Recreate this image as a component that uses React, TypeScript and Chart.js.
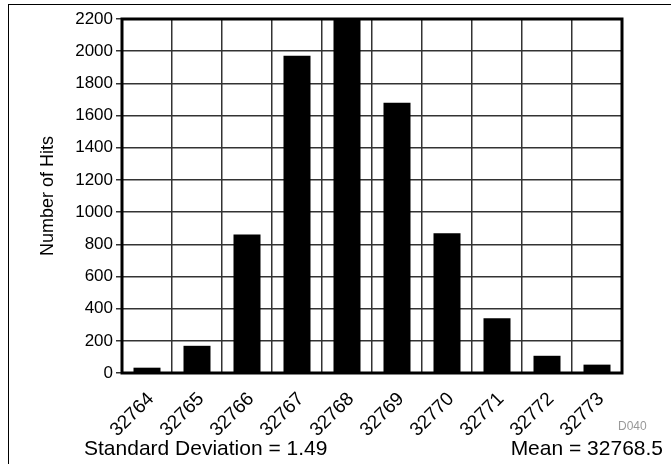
import React, { useEffect, useRef } from "react";
import { Chart, registerables } from "chart.js";

Chart.register(...registerables);

const categories = ["32764", "32765", "32766", "32767", "32768", "32769", "32770", "32771", "32772", "32773"];
const hits = [33, 169, 861, 1971, 2200, 1679, 868, 341, 107, 52];
const yMin = 0;
const yMax = 2200;
const yStep = 200;
const yTitle = "Number of Hits";
const footerLeft = "Standard Deviation = 1.49";
const footerRight = "Mean = 32768.5";
const figureCode = "D040";

const FONT = "'Liberation Sans', Arial, Helvetica, sans-serif";

const borderPlugin = {
  id: "plotBorder",
  afterDatasetsDraw(chart: any) {
    const { ctx, chartArea } = chart;
    ctx.save();
    ctx.strokeStyle = "#000";
    ctx.lineWidth = 3;
    ctx.strokeRect(chartArea.left, chartArea.top, chartArea.right - chartArea.left, chartArea.bottom - chartArea.top);
    ctx.restore();
  },
};

export default function App() {
  const ref = useRef<HTMLCanvasElement | null>(null);

  useEffect(() => {
    if (!ref.current) return;
    const chart = new Chart(ref.current, {
      type: "bar",
      data: {
        labels: categories,
        datasets: [
          {
            data: hits,
            backgroundColor: "#000",
            borderWidth: 0,
            categoryPercentage: 1,
            barPercentage: 0.54,
          },
        ],
      },
      options: {
        responsive: false,
        animation: false,
        layout: { padding: { left: 37, top: 19, right: 49, bottom: 0 } },
        plugins: {
          legend: { display: false },
          tooltip: { enabled: false },
        },
        scales: {
          x: {
            grid: { color: "#333", lineWidth: 1.5, drawTicks: false, offset: true },
            border: { display: false },
            ticks: {
              color: "#000",
              font: { family: FONT, size: 19 },
              minRotation: 45,
              maxRotation: 45,
              padding: 15,
              labelOffset: 4,
              autoSkip: false,
            },
            afterFit: (scale: any) => {
              scale.height = 91;
            },
          },
          y: {
            min: yMin,
            max: yMax,
            grid: { color: "#333", lineWidth: 1.5, tickLength: 6 },
            border: { display: false },
            ticks: {
              stepSize: yStep,
              color: "#000",
              font: { family: FONT, size: 17 },
              padding: 3,
              callback: (v: any) => String(v),
            },
            title: {
              display: true,
              text: yTitle,
              color: "#000",
              font: { family: FONT, size: 18 },
              padding: 0,
            },
            afterFit: (scale: any) => {
              scale.width = 85;
            },
          },
        },
      },
      plugins: [borderPlugin],
    });
    return () => chart.destroy();
  }, []);

  return (
    <div
      style={{
        position: "absolute",
        left: 0,
        top: 0,
        width: 671,
        height: 464,
        background: "#fff",
        overflow: "hidden",
        fontFamily: FONT,
      }}
    >
      <canvas ref={ref} width={671} height={464} style={{ position: "absolute", left: 0, top: 0 }} />
      <div
        style={{
          position: "absolute",
          left: 7.5,
          top: 3.5,
          width: 700,
          height: 500,
          borderLeft: "1px solid #000",
          borderTop: "1px solid #000",
          pointerEvents: "none",
        }}
      />
      <div style={{ position: "absolute", left: 84, top: 437, fontSize: 21, lineHeight: 1, color: "#000", whiteSpace: "nowrap" }}>
        {footerLeft}
      </div>
      <div style={{ position: "absolute", right: 8, top: 437, fontSize: 21, lineHeight: 1, color: "#000", whiteSpace: "nowrap" }}>
        {footerRight}
      </div>
      <div style={{ position: "absolute", left: 618, top: 420, fontSize: 12, lineHeight: 1, color: "#999", whiteSpace: "nowrap" }}>
        {figureCode}
      </div>
    </div>
  );
}
